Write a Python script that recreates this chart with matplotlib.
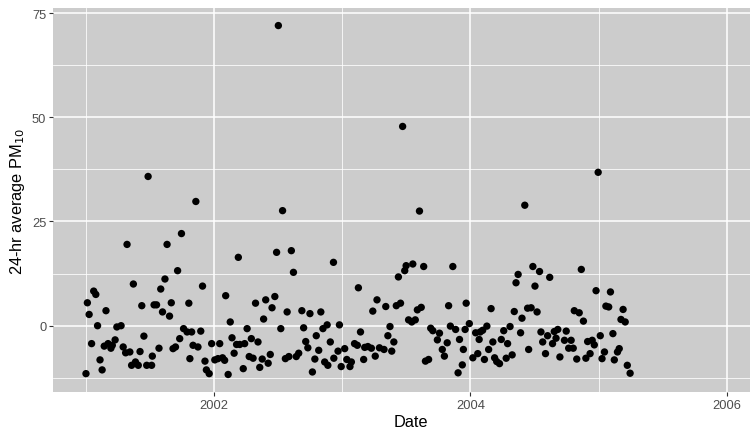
import numpy as np
import pandas as pd
import matplotlib
matplotlib.use("Agg")
import matplotlib.pyplot as plt
import matplotlib.dates as mdates

# days after 2001-01-01
day_offset = [
    177, 313, 272, 117, 231, 261, 225, 135, 213, 22, 28, 4, 159, 194, 201, 243, 293, 9, 57, 218,
    238, 33, 88, 100, 278, 288, 301, 165, 267, 16, 83, 52, 63, 71, 75, 106, 113, 125, 154, 208,
    248, 255, 305, 40, 189, 296, 130, 141, 149, 173, 187, 46, 0,
    560, 434, 543, 585, 591, 332, 398, 483, 512, 538, 530, 506, 411, 573, 615, 638, 669, 327, 459, 555,
    620, 675, 687, 656, 319, 358, 381, 416, 429, 438, 452, 471, 490, 626, 632, 696, 339, 367, 376, 389,
    395, 422, 465, 476, 502, 525, 519, 495, 568, 578, 599, 606, 663, 652, 680, 689, 343, 351, 405, 448,
    645,
    548,
    902, 950, 705, 776, 890, 908, 912, 931, 962, 1045, 829, 854, 817, 884, 896, 944, 955, 1033, 1083, 722,
    866, 919, 928, 938, 982, 988, 1007, 1001, 1038, 1053, 1029, 782, 860, 877, 765, 773, 718, 737, 794, 803,
    813, 836, 849, 871, 1015, 706, 824, 791, 1021, 743, 756, 752, 727, 967, 976, 1060,
    1459, 1250, 1273, 1292, 1231, 1225, 1279, 1321, 1411, 1453, 1494, 1154, 1220, 1242, 1258, 1268, 1285, 1391, 1405, 1417,
    1481, 1489, 1530, 1524, 1536, 1092, 1080, 1142, 1110, 1123, 1130, 1208, 1190, 1238, 1296, 1315, 1334, 1344, 1368, 1465,
    1501, 1064, 1120, 1183, 1201, 1159, 1301, 1329, 1339, 1363, 1382, 1429, 1442, 1448, 1147, 1261, 1375, 1388, 1519, 1514,
    1477, 1116, 1102, 1135, 1164, 1170, 1178, 1197, 1214, 1309, 1350, 1398, 1424, 1436, 1470, 1505, 1542, 1550, 1075, 1072,
]

pm10 = [
    35.8, 29.8, 22.1, 19.5, 19.5, 13.2, 11.2, 10.0, 8.8, 8.3, 7.5, 5.5, 4.8, 5.0, 5.0, 5.5, 5.4, 2.7, 3.6, 3.3,
    2.3, 0.0, -0.3, 0.0, -0.7, -1.5, -1.5, -2.5, -3.1, -4.3, -3.4, -4.9, -4.3, -5.4, -4.7, -5.1, -6.5, -6.3, -6.2, -5.4,
    -5.5, -5.1, -4.7, -8.2, -7.3, -7.9, -9.5, -8.7, -9.5, -9.5, -9.5, -10.6, -11.5,
    27.6, 16.4, 17.6, 18.0, 12.8, 9.5, 7.2, 5.4, 6.2, 7.0, 4.3, 1.6, 0.9, 3.3, 3.6, 2.9, 3.3, -1.3, -0.7, -0.7,
    -0.5, -0.7, 0.2, -2.4, -5.1, -4.3, -4.3, -2.9, -4.5, -4.5, -4.3, -3.1, -3.9, -3.8, -5.3, -3.9, -8.5, -8.2, -7.9, -7.7,
    -8.3, -6.6, -7.4, -7.8, -8.0, -6.9, -9.0, -10.0, -7.9, -7.4, -7.4, -6.6, -5.9, -8.0, -8.7, -9.5, -10.6, -11.5, -11.7, -10.3,
    -11.1,
    72.0,
    47.8, 27.5, 15.2, 9.1, 11.7, 13.2, 14.4, 14.8, 14.2, 14.2, 6.2, 4.6, 3.5, 4.8, 5.4, 3.8, 4.4, 4.8, 5.4, 0.2,
    -0.2, 1.4, 0.9, 1.4, -0.6, -1.2, -1.8, -3.4, -0.1, -0.9, -4.1, -1.5, -2.4, -3.9, -4.3, -4.7, -6.1, -5.5, -5.2, -5.0,
    -5.4, -5.3, -5.7, -6.1, -5.7, -7.8, -7.3, -8.1, -7.3, -8.1, -8.7, -9.8, -9.8, -8.5, -8.1, -11.3,
    36.8, 28.9, 14.2, 13.0, 12.3, 10.3, 9.5, 11.6, 13.5, 8.4, 8.1, 4.1, 3.4, 1.8, 4.2, 4.3, 3.3, 3.6, 3.1, 1.1,
    4.7, 4.5, 3.9, 1.5, 0.9, 0.5, -0.9, -0.1, -1.7, -1.5, -1.1, -0.2, -1.2, -1.7, -1.5, -2.4, -1.4, -0.9, -1.3, -2.4,
    -1.9, -3.3, -3.3, -3.3, -4.3, -3.9, -3.9, -4.3, -3.0, -3.5, -3.5, -3.8, -3.5, -4.6, -5.7, -5.7, -5.4, -5.4, -5.5, -6.3,
    -6.3, -6.7, -7.7, -8.1, -7.7, -8.6, -9.1, -7.8, -7.0, -6.7, -7.5, -8.0, -7.8, -6.7, -7.9, -8.2, -9.5, -11.4, -5.7, -9.4,
]
assert len(day_offset) == len(pm10)

major_years = [2002, 2004, 2006]
minor_years = [2001, 2003, 2005]
y_major = [0, 25, 50, 75]
y_minor = [-12.5, 12.5, 37.5, 62.5]

dates = pd.Timestamp("2001-01-01") + pd.to_timedelta(day_offset, unit="D")

plt.rcParams["font.family"] = ["Liberation Sans", "DejaVu Sans"]

fig = plt.figure(figsize=(7.5, 4.31), dpi=100)
ax = fig.add_axes([0.0711, 0.0882, 0.953, 0.8908])
ax.set_facecolor("#CCCCCC")
for s in ax.spines.values():
    s.set_visible(False)

ax.scatter(dates, pm10, s=28, color="black", edgecolors="none", zorder=3)

base = pd.Timestamp("2001-01-01")
ax.set_xlim(base + pd.Timedelta(days=-93), base + pd.Timedelta(days=1943))
ax.set_ylim(-15.9, 76.2)

ax.set_xticks([pd.Timestamp(f"{y}-01-01") for y in major_years])
ax.set_xticklabels([str(y) for y in major_years])
ax.set_xticks([pd.Timestamp(f"{y}-01-01") for y in minor_years], minor=True)
ax.set_yticks(y_major)
ax.set_yticks(y_minor, minor=True)

ax.grid(which="major", color="white", lw=1.1, zorder=0)
ax.grid(which="minor", color="white", lw=0.55, zorder=0)
ax.set_axisbelow(True)
ax.tick_params(which="major", length=3, width=0.8, color="#333333",
               labelsize=9.3, labelcolor="#4D4D4D", pad=2)
ax.tick_params(which="minor", length=0)

fig.text(18 / 750, 0.5336, "24-hr average PM$_{10}$", rotation=90,
         ha="center", va="center", fontsize=11.8)
fig.text(411 / 750, 0.0186, "Date", ha="center", va="center", fontsize=11.8)

fig.savefig("out.png", dpi=100)
